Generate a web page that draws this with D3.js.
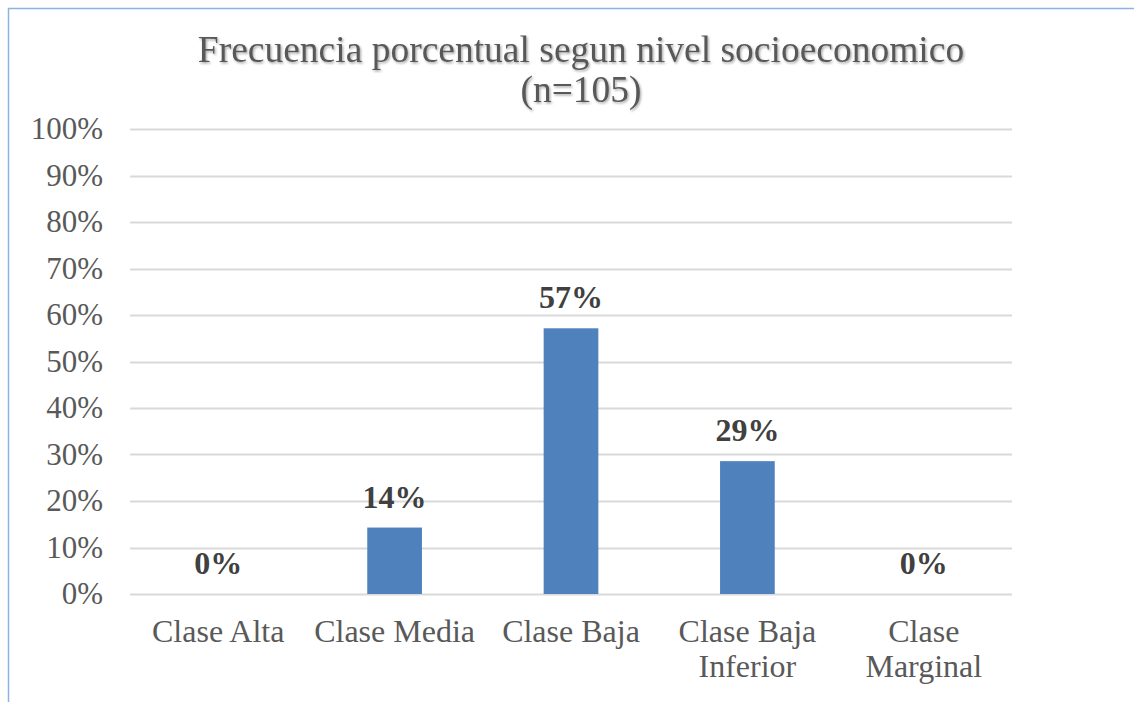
<!DOCTYPE html>
<html><head><meta charset="utf-8">
<script src="https://cdn.jsdelivr.net/npm/d3@7"></script>
<style>
body{margin:0;background:#fff;}
svg{display:block;}
</style></head>
<body>
<svg id="chart" width="1134" height="702"></svg>
<script>
const categories = [["Clase Alta"], ["Clase Media"], ["Clase Baja"], ["Clase Baja","Inferior"], ["Clase","Marginal"]];
const values = [0, 14.29, 57.14, 28.57, 0];
const valueLabels = ["0%", "14%", "57%", "29%", "0%"];
const yTicks = [0,10,20,30,40,50,60,70,80,90,100];
const titleLines = ["Frecuencia porcentual segun nivel socioeconomico", "(n=105)"];

const svg = d3.select("#chart");
const font = "'Liberation Serif','Times New Roman',serif";

const defs = svg.append("defs");
const f = defs.append("filter").attr("id","shadow").attr("x","-5%").attr("y","-20%").attr("width","110%").attr("height","150%");
f.append("feDropShadow").attr("dx",1.2).attr("dy",1.5).attr("stdDeviation",1.2).attr("flood-color","#000").attr("flood-opacity",0.35);

// border (top and left)
svg.append("line").attr("x1",8).attr("x2",1134).attr("y1",8.5).attr("y2",8.5).attr("stroke","#8db3e2").attr("stroke-width",1.5);
svg.append("line").attr("x1",8.5).attr("x2",8.5).attr("y1",8).attr("y2",702).attr("stroke","#8db3e2").attr("stroke-width",1.5);

const x0 = 130, x1 = 1012, yTop = 129, yBot = 594;
const x = d3.scaleBand().domain(d3.range(categories.length)).range([x0,x1]).paddingInner(0.69).paddingOuter(0.345);
const y = d3.scaleLinear().domain([0,100]).range([yBot,yTop]);

// gridlines
svg.append("g").selectAll("line").data(yTicks).join("line")
  .attr("x1",x0).attr("x2",x1)
  .attr("y1",d=>Math.round(y(d))+0.5).attr("y2",d=>Math.round(y(d))+0.5)
  .attr("stroke","#d9d9d9").attr("stroke-width",2);

// y axis labels
const yAxis = d3.axisLeft(y).tickValues(yTicks).tickFormat(d=>d+"%").tickSize(0).tickPadding(0);
const ga = svg.append("g").attr("transform",`translate(103,0)`).call(yAxis);
ga.select(".domain").remove();
ga.selectAll("text").attr("font-family",font).attr("font-size",31).attr("fill","#595959").attr("dy","0.32em");

// bars
svg.append("g").selectAll("rect").data(values).join("rect")
  .attr("x",(d,i)=>x(i)).attr("width",x.bandwidth())
  .attr("y",d=>y(d)).attr("height",d=>yBot-y(d))
  .attr("fill","#4f81bd");

// value labels
svg.append("g").selectAll("text").data(values).join("text")
  .attr("x",(d,i)=>x(i)+x.bandwidth()/2)
  .attr("y",d=>y(d)-20)
  .attr("text-anchor","middle")
  .attr("font-family",font).attr("font-size",32).attr("font-weight","bold").attr("fill","#404040")
  .text((d,i)=>valueLabels[i]);

// category labels
const cl = svg.append("g").selectAll("text").data(categories).join("text")
  .attr("x",(d,i)=>x(i)+x.bandwidth()/2)
  .attr("y",642)
  .attr("text-anchor","middle")
  .attr("font-family",font).attr("font-size",32).attr("fill","#595959");
cl.selectAll("tspan").data(d=>d).join("tspan")
  .attr("x",function(){return this.parentNode.getAttribute("x");})
  .attr("dy",(d,i)=>i===0?0:35)
  .text(d=>d);

// title
svg.append("g").attr("filter","url(#shadow)").selectAll("text").data(titleLines).join("text")
  .attr("x",581).attr("y",(d,i)=>62+i*40)
  .attr("text-anchor","middle")
  .attr("font-family",font).attr("font-size",37.5).attr("fill","#595959")
  .text(d=>d);
</script>
</body></html>
